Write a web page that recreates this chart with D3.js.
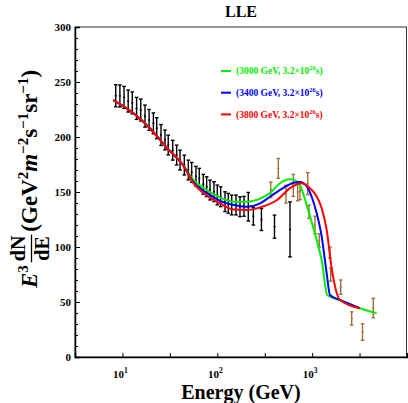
<!DOCTYPE html>
<html>
<head>
<meta charset="utf-8">
<script src="https://cdn.jsdelivr.net/npm/d3@7"></script>
<style>
body { margin: 0; background: #fff; }
text { font-family: "Liberation Serif", "Times New Roman", serif; font-weight: bold; }
</style>
</head>
<body>
<div id="chart"></div>
<script>
// Black data points (GeV, E^3 dN/dE, error)
var blackE = [8.5, 9.4, 10.4, 11.5, 12.7, 14.1, 15.6, 17.3, 19.1, 21.2, 23, 25.5, 28.1, 30.4, 33.9, 37.3, 40.5, 44.9, 49.5, 53.7,
              59.6, 64.6, 71.2, 77.3, 83.8, 92.3, 100, 108.6, 120.6, 130.6, 141.9, 157.5, 173.5, 191.2, 212.3, 240, 292, 401, 584];
var blackV = [237.5, 237.3, 236, 232.7, 231, 226, 224.5, 219, 215.5, 212.4, 208, 201.8, 197.3, 192.7, 188, 183.6, 179, 174.5, 170, 167.9,
              164.3, 162.5, 157, 154.8, 151.8, 150.3, 147.3, 145.7, 141.2, 139.7, 138.2, 138.2, 136.6, 137, 136.6, 128, 125, 118.5, 116];
var blackErr = [10, 10, 10, 10, 10, 10, 10, 10, 9.5, 9.5, 9.5, 9.5, 9, 9, 9, 9, 9, 9, 9, 9,
                9, 9, 9, 9, 9, 9, 9, 9, 9, 9, 9, 9, 9, 9, 13, 8, 10, 10.5, 25];

// Brown data points
var brownE = [366, 440, 530, 633, 704, 745, 898, 927, 1072, 1189, 1540, 1569, 2000, 2612, 3395, 4413];
var brownV = [152, 171.5, 148, 156, 150, 151, 157.6, 132, 120, 106, 95, 75, 63.5, 35, 22.7, 44.5];
var brownErr = [7, 9, 8, 10, 8, 8, 10, 6, 8, 6, 5, 6, 6.5, 6, 7.5, 8.8];

// Model curves
var greenE = [8, 13, 19.5, 29.5, 43.5, 56, 77, 107, 150, 205, 283, 359, 458, 584, 660, 745, 844, 952, 1117, 1261, 1444, 1966, 3190, 4790];
var greenV = [233.6, 221.8, 208, 190, 174.5, 161, 152, 145, 141.2, 141.2, 144, 149, 158, 161.5, 160.5, 156.4, 142.7, 127.5, 106.4, 88, 56.4, 51.8, 44.3, 39.7];
var blueE = [8, 13, 19.5, 29.5, 43.5, 56, 77, 107, 150, 205, 283, 359, 493, 628, 745, 855, 989, 1117, 1261, 1423, 1542, 1966, 3190];
var blueV = [233.6, 221.8, 208, 190, 174.5, 159, 149.4, 142, 138.2, 136.6, 139.7, 145.7, 153.6, 158.2, 159.1, 156.4, 145.7, 130.6, 109.4, 76.1, 56.4, 51.8, 44.3];
var redE = [8, 13, 19.5, 29.5, 43.5, 56, 77, 107, 150, 205, 283, 426, 584, 776, 989, 1117, 1261, 1423, 1607, 1966, 3190];
var redV = [233.6, 221.8, 208, 190, 174.5, 158, 147, 139.7, 134, 133.6, 136, 142.7, 153.6, 158, 151.8, 146, 135.2, 115.5, 80.6, 51.8, 44.3];

var legendMass = ["3000", "3400", "3800"];
var legendColors = ["#00ee00", "#0000ff", "#ff0000"];
var yTicks = [0, 50, 100, 150, 200, 250, 300];
var xTicks = [10, 100, 1000];
var xTickExp = ["1", "2", "3"];

var W = 408, H = 403;
var svg = d3.select("#chart").append("svg")
    .attr("width", W)
    .attr("height", H);

var x = d3.scaleLog().domain([Math.sqrt(10), 1e4]).range([75, 407]);
var y = d3.scaleLinear().domain([0, 300]).range([357, 27]);

// frame
svg.append("rect")
    .attr("x", 75).attr("y", 27)
    .attr("width", 331.5).attr("height", 330)
    .attr("fill", "none")
    .attr("stroke", "#333")
    .attr("stroke-width", 1);

// y axis
svg.append("g")
    .attr("transform", "translate(75,0)")
    .call(d3.axisLeft(y).tickValues(yTicks).tickSize(-5).tickPadding(4))
    .call(function(g) {
        g.select(".domain").attr("stroke-width", 1.5);
        g.selectAll("text").attr("font-size", "11px").attr("font-family", "Liberation Serif").attr("fill", "#000");
    });
svg.append("g")
    .attr("transform", "translate(75,0)")
    .call(d3.axisLeft(y).tickValues(d3.range(0, 301, 10).filter(function(v) { return v % 50 != 0; })).tickSize(-3).tickFormat(""))
    .call(function(g) { g.select(".domain").remove(); });

// x axis
var xAxis = svg.append("g")
    .attr("transform", "translate(0,357)")
    .call(d3.axisBottom(x).tickValues([Math.pow(10, 1.5), Math.pow(10, 2.5), Math.pow(10, 3.5)].concat(xTicks)).tickSize(-4).tickFormat(""));
xAxis.select(".domain").attr("stroke-width", 1.5);

var xl = svg.append("g").selectAll("text")
    .data(xTicks)
    .enter().append("text")
    .attr("x", function(d) { return x(d) - 2; })
    .attr("y", 378)
    .attr("text-anchor", "middle")
    .attr("font-size", "11px");
xl.append("tspan").text("10");
xl.append("tspan").attr("dy", -5).attr("font-size", "7.5px").text(function(d, i) { return xTickExp[i]; });

// error bars
function drawBars(E, V, Err, color) {
    var g = svg.append("g").attr("stroke", color).attr("stroke-width", 1.4);
    var idx = d3.range(E.length);
    g.selectAll("line.v").data(idx).enter().append("line")
        .attr("x1", function(i) { return x(E[i]); })
        .attr("x2", function(i) { return x(E[i]); })
        .attr("y1", function(i) { return y(V[i] + Err[i]); })
        .attr("y2", function(i) { return y(V[i] - Err[i]); });
    [1, -1, 0].forEach(function(s) {
        var hw = s == 0 ? 1 : 1.8;
        g.selectAll("line.c" + (s + 1)).data(idx).enter().append("line")
            .attr("x1", function(i) { return x(E[i]) - hw; })
            .attr("x2", function(i) { return x(E[i]) + hw; })
            .attr("y1", function(i) { return y(V[i] + s * Err[i]); })
            .attr("y2", function(i) { return y(V[i] + s * Err[i]); });
    });
}
drawBars(blackE, blackV, blackErr, "#000");
drawBars(brownE, brownV, brownErr, "#a0703c");

// model lines
var line = d3.line()
    .x(function(d) { return x(d[0]); })
    .y(function(d) { return y(d[1]); })
    .curve(d3.curveMonotoneX);
[[greenE, greenV], [blueE, blueV], [redE, redV]].forEach(function(c, k) {
    svg.append("path")
        .datum(c[0].map(function(e, i) { return [e, c[1][i]]; }))
        .attr("d", line)
        .attr("fill", "none")
        .attr("stroke", legendColors[k])
        .attr("stroke-width", 2);
});

// legend
legendMass.forEach(function(m, i) {
    var ly = 71 + i * 21.7;
    svg.append("line")
        .attr("x1", 221).attr("x2", 231)
        .attr("y1", ly).attr("y2", ly)
        .attr("stroke", legendColors[i]).attr("stroke-width", 2);
    var t = svg.append("text")
        .attr("x", 236).attr("y", ly + 3.3)
        .attr("font-size", "9.5px")
        .attr("fill", legendColors[i]);
    t.append("tspan").text("(" + m + " GeV, 3.2\u00d710");
    t.append("tspan").attr("dy", -4).attr("font-size", "6.5px").text("26");
    t.append("tspan").attr("dy", 4).text("s)");
});

// title
svg.append("text")
    .attr("x", 241).attr("y", 16.5)
    .attr("text-anchor", "middle")
    .attr("font-size", "16px")
    .text("LLE");

// x label
svg.append("text")
    .attr("x", 241).attr("y", 398.5)
    .attr("text-anchor", "middle")
    .attr("font-size", "20px")
    .text("Energy (GeV)");

// y label: E^3 dN/dE (GeV^2 m^-2 s^-1 sr^-1)
var yl = svg.append("g");
var t1 = yl.append("text").attr("font-size", "23px");
t1.append("tspan").attr("font-style", "italic").text("E");
t1.append("tspan").attr("dy", -9).attr("font-size", "15px").text("3");
var w1 = t1.node().getComputedTextLength();
var gap = 3;
var num = yl.append("text").attr("font-size", "20px").attr("text-anchor", "middle").attr("y", -12).text("dN");
var den = yl.append("text").attr("font-size", "20px").attr("text-anchor", "middle").attr("y", 12).text("dE");
var fw = Math.max(num.node().getComputedTextLength(), den.node().getComputedTextLength()) + 2;
num.attr("x", w1 + gap + fw / 2);
den.attr("x", w1 + gap + fw / 2);
yl.append("line")
    .attr("x1", w1 + gap).attr("x2", w1 + gap + fw)
    .attr("y1", -5.5).attr("y2", -5.5)
    .attr("stroke", "#000").attr("stroke-width", 1.3);
var t3 = yl.append("text").attr("font-size", "23px").attr("x", w1 + 2 * gap + fw);
t3.append("tspan").text("(GeV");
t3.append("tspan").attr("dy", -9).attr("font-size", "15px").text("2");
t3.append("tspan").attr("dy", 9).attr("font-style", "italic").text("m");
t3.append("tspan").attr("dy", -9).attr("font-size", "15px").text("\u22122");
t3.append("tspan").attr("dy", 9).text("s");
t3.append("tspan").attr("dy", -9).attr("font-size", "15px").text("\u22121");
t3.append("tspan").attr("dy", 9).text("sr");
t3.append("tspan").attr("dy", -9).attr("font-size", "15px").text("\u22121");
t3.append("tspan").attr("dy", 9).text(")");
var total = w1 + 2 * gap + fw + t3.node().getComputedTextLength();
yl.attr("transform", "translate(37," + (179 + total / 2) + ") rotate(-90)");
</script>
</body>
</html>
